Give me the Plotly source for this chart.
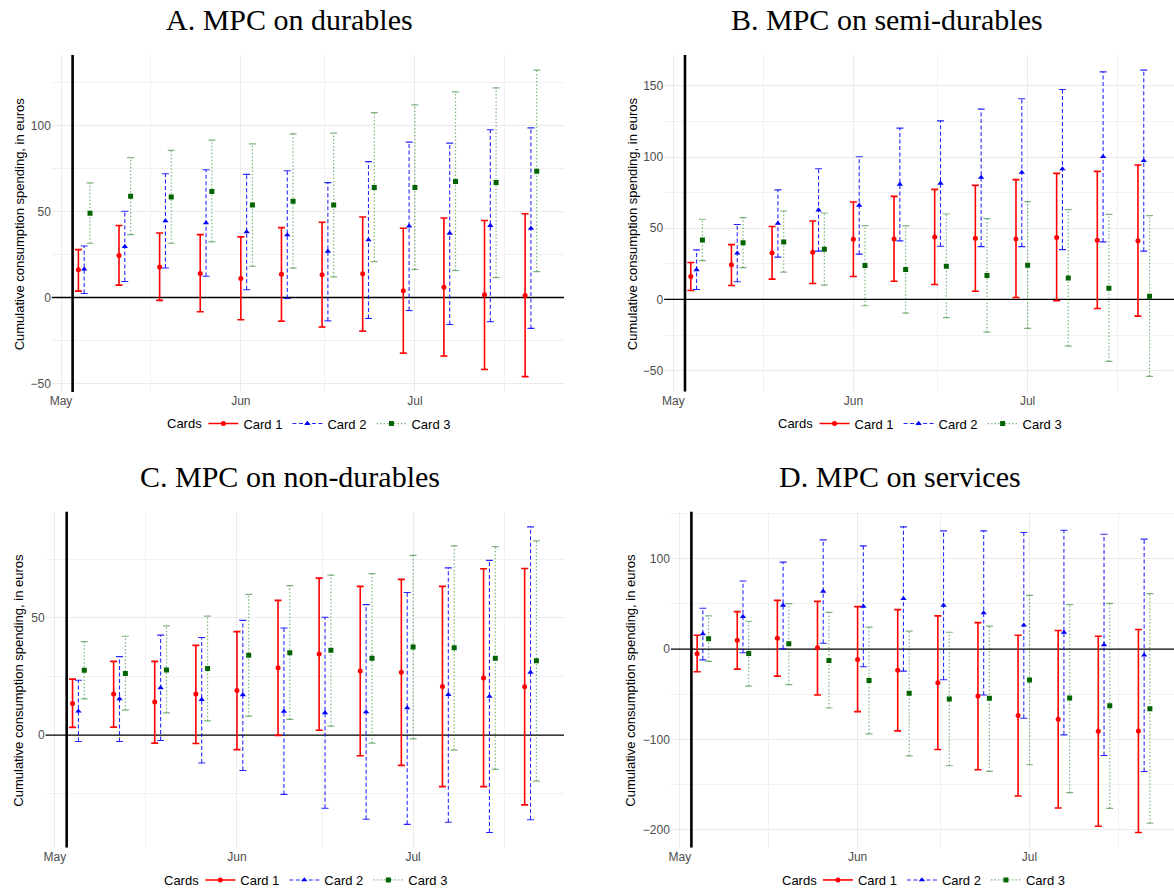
import pandas as pd
import plotly.graph_objects as go

# ---------------- data ----------------
week_dates = ["2021-05-05", "2021-05-12", "2021-05-19", "2021-05-26", "2021-06-02", "2021-06-09",
              "2021-06-16", "2021-06-23", "2021-06-30", "2021-07-07", "2021-07-14", "2021-07-21"]
card_names = ["Card 1", "Card 2", "Card 3"]
event_date = "2021-05-03"
month_ticks = ["2021-05-01", "2021-06-01", "2021-07-01"]
month_labels = ["May", "Jun", "Jul"]
mid_month = ["2021-05-16 12:00", "2021-06-15 12:00", "2021-07-16 12:00"]

# A. durables
dur_c1 = [16.1, 24.4, 17.8, 14.0, 11.0, 13.6, 13.2, 13.8, 3.9, 6.0, 1.6, 1.2]
dur_c1_lo = [3.7, 7.2, -1.7, -8.3, -13.0, -13.8, -17.2, -19.6, -32.4, -34.1, -41.9, -46.1]
dur_c1_hi = [27.9, 41.9, 37.6, 36.6, 35.3, 40.7, 43.8, 46.9, 40.3, 46.3, 44.8, 48.8]
dur_c2 = [16.5, 29.7, 44.6, 43.4, 38.2, 36.4, 26.9, 33.5, 41.5, 37.4, 41.9, 40.3]
dur_c2_lo = [2.3, 9.3, 17.2, 12.4, 4.5, -0.6, -13.6, -12.2, -7.6, -15.7, -14.1, -18.0]
dur_c2_hi = [30.0, 50.2, 72.1, 74.4, 71.7, 73.8, 66.9, 79.1, 90.5, 89.9, 97.7, 98.8]
dur_c3 = [49.0, 58.9, 58.5, 61.8, 53.9, 56.0, 53.9, 64.1, 64.1, 67.6, 66.9, 73.5]
dur_c3_lo = [31.6, 36.6, 31.6, 32.4, 18.2, 17.1, 12.0, 20.9, 16.3, 15.7, 11.6, 15.1]
dur_c3_hi = [66.7, 81.4, 85.7, 91.7, 89.5, 95.3, 95.7, 107.7, 112.2, 119.8, 122.1, 132.4]

# B. semi-durables
semi_c1 = [16.1, 24.3, 32.7, 33.2, 42.3, 42.5, 43.9, 43.0, 42.5, 43.5, 41.6, 41.3]
semi_c1_lo = [6.3, 9.8, 14.3, 11.2, 16.1, 12.8, 10.5, 5.8, 1.4, -0.9, -6.3, -11.7]
semi_c1_hi = [25.9, 38.5, 51.2, 55.1, 68.4, 72.4, 77.3, 80.1, 84.1, 88.5, 89.9, 94.4]
semi_c2 = [20.8, 32.5, 53.5, 62.8, 66.1, 80.8, 81.5, 85.7, 89.2, 91.6, 100.2, 97.4]
semi_c2_lo = [7.0, 12.4, 29.7, 33.9, 31.8, 41.1, 37.4, 37.1, 37.1, 35.0, 40.4, 33.9]
semi_c2_hi = [34.8, 52.6, 76.9, 91.8, 100.2, 120.3, 125.4, 133.6, 140.9, 147.4, 159.8, 161.0]
semi_c3 = [41.8, 39.9, 40.4, 35.3, 23.8, 21.0, 23.4, 16.8, 24.1, 15.0, 7.9, 2.3]
semi_c3_lo = [27.3, 22.4, 19.2, 10.0, -4.4, -9.6, -12.8, -22.9, -20.3, -32.7, -43.5, -54.0]
semi_c3_hi = [56.3, 57.5, 62.1, 60.7, 51.9, 51.6, 60.0, 56.8, 68.7, 63.1, 59.8, 58.9]

# C. non-durables
nond_c1 = [13.5, 17.6, 14.1, 17.5, 19.0, 28.8, 34.6, 27.4, 26.8, 20.7, 24.4, 20.6]
nond_c1_lo = [3.3, 3.4, -3.4, -3.6, -6.2, -0.1, 2.1, -8.8, -12.9, -22.0, -22.0, -29.8]
nond_c1_hi = [23.9, 31.5, 31.5, 38.3, 44.2, 57.5, 67.0, 63.5, 66.5, 63.5, 71.0, 71.1]
nond_c2 = [10.2, 15.5, 20.2, 15.2, 17.2, 10.1, 9.5, 9.9, 11.6, 17.3, 16.5, 26.8]
nond_c2_lo = [-2.7, -2.7, -2.3, -11.9, -15.1, -25.3, -31.2, -35.9, -38.1, -37.2, -41.6, -36.1]
nond_c2_hi = [23.4, 33.5, 42.7, 41.7, 49.0, 45.7, 50.3, 55.7, 60.9, 71.4, 74.6, 88.9]
nond_c3 = [27.7, 26.3, 27.8, 28.4, 34.1, 35.2, 36.2, 32.8, 37.6, 37.3, 32.8, 31.7]
nond_c3_lo = [15.5, 10.7, 9.5, 6.1, 8.1, 6.7, 3.8, -3.4, -1.6, -6.4, -14.6, -19.6]
nond_c3_hi = [39.9, 42.2, 46.6, 50.8, 60.1, 63.8, 68.3, 68.9, 76.7, 80.8, 80.5, 82.9]

# D. services
serv_c1 = [-5.1, 9.9, 12.1, 1.5, -11.4, -23.2, -37.1, -51.8, -73.5, -77.6, -90.8, -90.4]
serv_c1_lo = [-25.0, -22.1, -29.8, -50.7, -69.1, -90.4, -111.0, -133.4, -162.5, -175.7, -195.9, -202.9]
serv_c1_hi = [15.4, 41.5, 54.0, 52.9, 47.1, 43.7, 36.8, 29.4, 15.4, 20.6, 14.3, 21.7]
serv_c2 = [16.9, 36.0, 48.5, 64.0, 47.4, 55.9, 48.5, 40.1, 26.5, 18.7, 4.8, -6.6]
serv_c2_lo = [-11.8, -4.0, 0.4, 6.6, -19.5, -24.3, -33.8, -50.7, -76.5, -94.8, -117.6, -135.3]
serv_c2_hi = [45.2, 75.4, 96.3, 120.9, 114.3, 135.3, 130.9, 130.9, 129.0, 131.6, 127.2, 121.7]
serv_c3 = [11.4, -4.8, 5.9, -12.5, -34.6, -48.9, -55.1, -54.4, -34.2, -54.0, -62.5, -65.8]
serv_c3_lo = [-13.6, -40.8, -39.3, -65.1, -93.7, -118.0, -129.0, -135.3, -127.9, -158.8, -176.1, -192.6]
serv_c3_hi = [36.8, 30.9, 50.4, 40.8, 24.3, 19.9, 18.7, 25.4, 59.6, 49.3, 50.7, 61.4]

# ---------------- styling / layout ----------------
W, H = 1174, 895
styles = [
    dict(color="#FF0000", line_color="#FF0000", dash="solid", lw=1.6, symbol="circle", size=5),
    dict(color="#0000FF", line_color="rgba(0,0,255,0.85)", dash="4px,2.5px", lw=1.1, symbol="triangle-up", size=5.5),
    dict(color="#006400", line_color="rgba(0,110,0,0.5)", dash="1.5px,2px", lw=1.2, symbol="square", size=5),
]

panels = [
    dict(title="A. MPC on durables", est=[dur_c1, dur_c2, dur_c3], lo=[dur_c1_lo, dur_c2_lo, dur_c3_lo],
         hi=[dur_c1_hi, dur_c2_hi, dur_c3_hi], xdom=(49.9, 563), ydom=(55, 393.3), title_x=288, title_y=20,
         ytitle_x=17, legend_y=425, xend="2021-07-26 17:00", ytick=[-50, 0, 50, 100], yminor=[-25, 25, 75, 125]),
    dict(title="B. MPC on semi-durables", est=[semi_c1, semi_c2, semi_c3], lo=[semi_c1_lo, semi_c2_lo, semi_c3_lo],
         hi=[semi_c1_hi, semi_c2_hi, semi_c3_hi], xdom=(663.3, 1174), ydom=(55, 393), title_x=887, title_y=20,
         ytitle_x=631, legend_y=425, xend="2021-07-26 05:00", ytick=[-50, 0, 50, 100, 150], yminor=[-25, 25, 75, 125]),
    dict(title="C. MPC on non-durables", est=[nond_c1, nond_c2, nond_c3], lo=[nond_c1_lo, nond_c2_lo, nond_c3_lo],
         hi=[nond_c1_hi, nond_c2_hi, nond_c3_hi], xdom=(43.7, 563), ydom=(513.3, 850.7), title_x=288, title_y=478,
         ytitle_x=17, legend_y=883, xend="2021-07-26 17:00", ytick=[0, 50], yminor=[-25, 25, 75]),
    dict(title="D. MPC on services", est=[serv_c1, serv_c2, serv_c3], lo=[serv_c1_lo, serv_c2_lo, serv_c3_lo],
         hi=[serv_c1_hi, serv_c2_hi, serv_c3_hi], xdom=(670, 1174), ydom=(513.3, 850.7), title_x=900, title_y=478,
         ytitle_x=630, legend_y=883, xend="2021-07-26 05:00", ytick=[-200, -100, 0, 100], yminor=[-150, -50, 50, 150]),
]

fig = go.Figure()
grid_col = "#EBEBEB"
sans = "Liberation Sans, Arial, sans-serif"
tick_font = dict(family=sans, size=12, color="#4D4D4D")
annotations = []

for p_i, p in enumerate(panels):
    sfx = "" if p_i == 0 else str(p_i + 1)
    xa, ya = "x" + sfx, "y" + sfx
    leg = "legend" + sfx

    all_lo = min(min(v) for v in p["lo"])
    all_hi = max(max(v) for v in p["hi"])
    pad = 0.05 * (all_hi - all_lo)
    yrange = [all_lo - pad, all_hi + pad]

    # reference lines drawn as traces (beneath the error bars)
    fig.add_trace(go.Scatter(x=[event_date, event_date], y=yrange, mode="lines", xaxis=xa, yaxis=ya,
                             showlegend=False, hoverinfo="skip", line=dict(color="black", width=2.6)))
    fig.add_trace(go.Scatter(x=["2021-04-20", "2021-08-05"], y=[0, 0], mode="lines", xaxis=xa, yaxis=ya,
                             showlegend=False, hoverinfo="skip", line=dict(color="black", width=1.3)))

    for c_i in range(3):
        st = styles[c_i]
        xs = [pd.Timestamp(d) + pd.Timedelta(days=c_i - 1) for d in week_dates]
        ex, ey = [], []
        for x, l, h in zip(xs, p["lo"][c_i], p["hi"][c_i]):
            ex += [x, x, None]
            ey += [l, h, None]
        fig.add_trace(go.Scatter(x=ex, y=ey, mode="lines", xaxis=xa, yaxis=ya, showlegend=False,
                                 hoverinfo="skip",
                                 line=dict(color=st["line_color"], width=st["lw"], dash=st["dash"])))
        fig.add_trace(go.Scatter(x=xs + xs, y=list(p["lo"][c_i]) + list(p["hi"][c_i]), mode="markers",
                                 xaxis=xa, yaxis=ya, showlegend=False, hoverinfo="skip",
                                 marker=dict(symbol="line-ew", size=5,
                                             line=dict(color=st["line_color"], width=st["lw"]))))
        fig.add_trace(go.Scatter(x=xs, y=p["est"][c_i], mode="markers", xaxis=xa, yaxis=ya, showlegend=False,
                                 marker=dict(symbol=st["symbol"], size=st["size"], color=st["color"],
                                             line=dict(width=0)),
                                 name=card_names[c_i]))
        # legend key
        fig.add_trace(go.Scatter(x=[None], y=[None], mode="lines+markers", xaxis=xa, yaxis=ya,
                                 name=card_names[c_i], legend=leg, showlegend=True,
                                 line=dict(color=st["line_color"], width=st["lw"], dash=st["dash"]),
                                 marker=dict(symbol=st["symbol"], size=st["size"], color=st["color"])))

    x0, x1 = p["xdom"]
    y0, y1 = p["ydom"]
    pc = (x0 + x1) / 2
    fig.update_layout(**{
        "xaxis" + sfx: dict(domain=[x0 / W, x1 / W], anchor=ya, type="date",
                            range=["2021-04-29 10:00", p["xend"]],
                            tickvals=month_ticks, ticktext=month_labels, showgrid=True,
                            gridcolor=grid_col, gridwidth=1, zeroline=False, showline=False,
                            ticks="", tickfont=tick_font,
                            minor=dict(tickvals=mid_month, showgrid=True, gridcolor="#F1F1F1", gridwidth=1)),
        "yaxis" + sfx: dict(domain=[1 - y1 / H, 1 - y0 / H], anchor=xa, range=yrange,
                            tickvals=p["ytick"], showgrid=True, gridcolor=grid_col, gridwidth=1,
                            zeroline=False, showline=False, ticks="", tickfont=tick_font,
                            minor=dict(tickvals=p["yminor"], showgrid=True, gridcolor="#F1F1F1", gridwidth=1)),
        leg: dict(orientation="h", x=(pc + 22) / W, xanchor="center", y=1 - p["legend_y"] / H,
                  yanchor="middle", bgcolor="rgba(0,0,0,0)",
                  font=dict(family=sans, size=13, color="#000"),
                  itemwidth=30, tracegroupgap=0),
    })

    annotations.append(dict(text="Cards", x=(pc - 104) / W, y=1 - p["legend_y"] / H, xref="paper",
                            yref="paper", xanchor="right", yanchor="middle", showarrow=False,
                            font=dict(family=sans, size=13, color="#000")))
    annotations.append(dict(text=p["title"], x=p["title_x"] / W, y=1 - p["title_y"] / H, xref="paper",
                            yref="paper", xanchor="center", yanchor="middle", showarrow=False,
                            font=dict(family="Liberation Serif, Times New Roman, serif", size=30, color="#000")))
    annotations.append(dict(text="Cumulative consumption spending, in euros", x=p["ytitle_x"] / W,
                            y=1 - ((y0 + y1) / 2) / H, xref="paper", yref="paper", textangle=-90,
                            xanchor="center", yanchor="middle", showarrow=False,
                            font=dict(family=sans, size=13, color="#000")))

fig.update_layout(width=W, height=H, margin=dict(l=0, r=0, t=0, b=0), plot_bgcolor="white",
                  paper_bgcolor="white", annotations=annotations, hovermode=False)

fig.write_html("out.html")
